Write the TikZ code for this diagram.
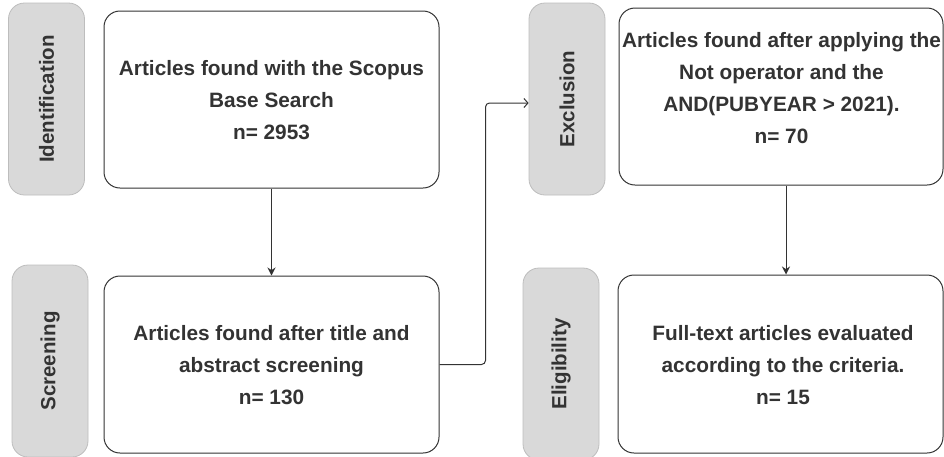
\documentclass[tikz,border=0pt]{standalone}
\usepackage{fontspec}
\setmainfont{Liberation Sans}
\usetikzlibrary{arrows.meta,calc}
\definecolor{ink}{HTML}{333333}
\definecolor{phasefill}{HTML}{D9D9D9}
\definecolor{phaseline}{HTML}{BDBDBD}
\tikzset{
  stagebox/.style={draw=ink, line width=1pt, fill=white, rounded corners=16pt},
  stagetext/.style={align=center, text=ink, font=\fontsize{20.8}{32}\selectfont\bfseries},
  phasebox/.style={draw=phaseline, line width=0.8pt, fill=phasefill, rounded corners=16pt,
    minimum width=76pt, minimum height=192pt},
  phaselabel/.style={rotate=90, text=ink, font=\fontsize{20.5}{22}\selectfont\bfseries},
  flow/.style={draw=ink, line width=1pt, -{Stealth[length=8pt,width=8pt]}},
  jump/.style={draw=ink, line width=1pt, rounded corners=4pt, -{Straight Barb[length=4pt,width=9pt]}}
}
\begin{document}
\begin{tikzpicture}[x=1pt,y=-1pt]
\useasboundingbox (0,0) rectangle (944,456);

% phase labels
\node[phasebox] (ident) at (46.5,99) {};
\node[phaselabel] at (ident.center) {Identification};
\node[phasebox] (screen) at (50,361) {};
\node[phaselabel] at (screen.center) {Screening};
\node[phasebox] (excl) at (567,99) {};
\node[phaselabel] at (excl.center) {Exclusion};
\node[phasebox] (elig) at (561,364) {};
\node[phaselabel] at (elig.center) {Eligibility};

% stage boxes
\node[stagebox, minimum width=335pt, minimum height=177pt] (found) at (271.5,99.5) {};
\node[stagetext] at (271.5,100) {Articles found with the Scopus\\Base Search\\n= 2953};
\node[stagebox, minimum width=335pt, minimum height=177pt] (screened) at (271.5,364.5) {};
\node[stagetext] at (271.5,365) {Articles found after title and\\abstract screening\\n= 130};
\node[stagebox, minimum width=324pt, minimum height=177pt] (excluded) at (781,96.5) {};
\node[stagetext] at (781.5,88) {Articles found after applying the\\Not operator and the\\AND(PUBYEAR > 2021).\\n= 70};
\node[stagebox, minimum width=325pt, minimum height=178pt] (eligible) at (780.5,364) {};
\node[stagetext] at (783,365) {Full-text articles evaluated\\according to the criteria.\\n= 15};

% connectors
\draw[flow] (found.south) -- (screened.north);
\draw[flow] ($(excluded.south)+(5,0)$) -- ($(eligible.north)+(5.5,0)$);
\draw[jump] (screened.east) -- ++(46,0) |- ($(excl.west)+(0,4)$);
\end{tikzpicture}
\end{document}
